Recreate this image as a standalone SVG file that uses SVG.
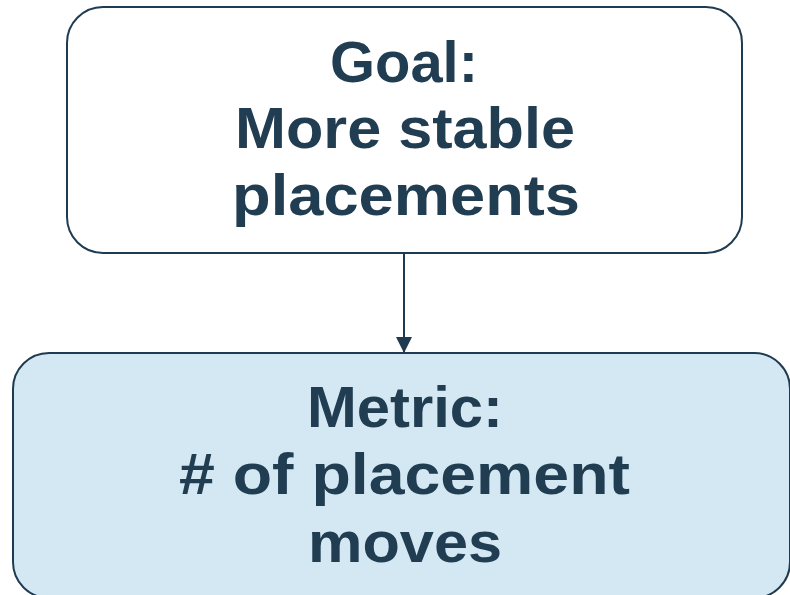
<svg xmlns="http://www.w3.org/2000/svg" width="790" height="595" viewBox="0 0 790 595">
<style>
.box{stroke:#1f3b51;stroke-width:2}
.t{font-family:"Liberation Sans",Arial,sans-serif;font-weight:700;font-size:57px;fill:#213d52;text-anchor:middle}
</style>
<defs>
<marker id="ah" markerWidth="16" markerHeight="16" viewBox="0 0 16 16" refX="16" refY="8" orient="auto" markerUnits="userSpaceOnUse">
<path d="M0,0 L16,8 L0,16 Z" fill="#1f3b51"/>
</marker>
</defs>
<rect width="790" height="595" fill="#ffffff"/>
<g id="connectors">
<line x1="404" y1="253" x2="404" y2="353" stroke="#1f3b51" stroke-width="2" marker-end="url(#ah)"/>
</g>
<g id="goal">
<rect class="box" x="67" y="7" width="675" height="246" rx="36" fill="#ffffff"/>
<text class="t" x="404" y="82" textLength="148" lengthAdjust="spacingAndGlyphs">Goal:</text>
<text class="t" x="405" y="148" textLength="340" lengthAdjust="spacingAndGlyphs">More stable</text>
<text class="t" x="406" y="215" textLength="348" lengthAdjust="spacingAndGlyphs">placements</text>
</g>
<g id="metric">
<rect class="box" x="13" y="353" width="777" height="245" rx="36" fill="#d4e8f3"/>
<text class="t" x="405" y="427" textLength="196" lengthAdjust="spacingAndGlyphs">Metric:</text>
<text class="t" x="404.5" y="494" textLength="451" lengthAdjust="spacingAndGlyphs"># of placement</text>
<text class="t" x="405" y="562" textLength="194" lengthAdjust="spacingAndGlyphs">moves</text>
</g>
</svg>
